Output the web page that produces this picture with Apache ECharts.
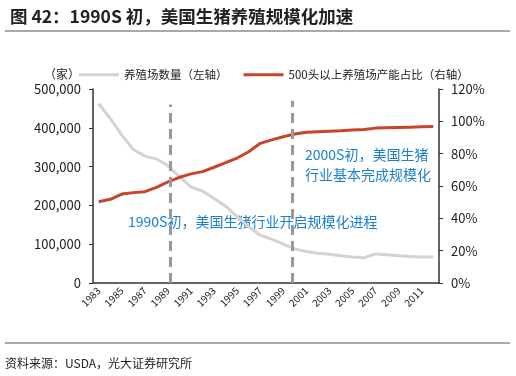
<!DOCTYPE html>
<html>
<head>
<meta charset="utf-8">
<script src="https://cdn.jsdelivr.net/npm/echarts@6/dist/echarts.min.js"></script>
<style>
  html, body { margin: 0; padding: 0; background: #fff; }
  #chart { width: 516px; height: 376px; }
</style>
</head>
<body>
<div id="chart"></div>
<script>
// 数据
var years = [];
for (var y = 1983; y <= 2012; y++) years.push(String(y));

// 养殖场数量（家）
var farmCount = [462000, 424000, 381000, 344000, 327000, 320000, 302000, 274000, 247000, 237000,
                 218000, 198000, 171000, 145000, 123000, 113000, 100000, 88000, 81000, 76500,
                 74000, 70000, 67000, 65000, 75000, 73000, 70000, 68000, 67000, 67000];
// 500头以上养殖场产能占比（%）
var bigShare = [50.3, 51.8, 55.0, 55.9, 56.5, 59.2, 62.5, 65.4, 67.5, 68.9,
                71.6, 74.4, 77.3, 81.2, 86.4, 88.5, 90.5, 92.2, 93.2, 93.6,
                93.9, 94.2, 94.6, 95.0, 95.8, 96.0, 96.2, 96.4, 96.6, 96.8];

// 分界虚线位置（以年份计，1989年附近 / 2000年附近）
var markYear = [1989.2, 1999.8];
var markTop = [460000, 470000];

var font = '"Noto Sans CJK SC", "Noto Sans", sans-serif';
var axisColor = '#333';

var myChart = echarts.init(document.getElementById('chart'));

myChart.setOption({
    animation: false,
    textStyle: { fontFamily: font },
    title: {
        text: '图 42：1990S 初，美国生猪养殖规模化加速',
        left: 5, top: 3,
        textStyle: { fontSize: 17.5, fontWeight: 'bold', color: '#222', fontFamily: font }
    },
    legend: {
        top: 64, left: 74,
        itemWidth: 40, itemHeight: 3, itemGap: 16,
        icon: 'rect',
        textStyle: { fontSize: 11.5, color: '#222', fontFamily: font },
        data: ['养殖场数量（左轴）', '500头以上养殖场产能占比（右轴）']
    },
    graphic: [
        { type: 'line', shape: { x1: 5, y1: 31, x2: 510, y2: 31 }, style: { stroke: '#555', lineWidth: 1 } },
        { type: 'line', shape: { x1: 5, y1: 343, x2: 510, y2: 343 }, style: { stroke: '#555', lineWidth: 1 } },
        { type: 'text', left: 5, top: 357, style: { text: '资料来源：USDA，光大证券研究所', fontSize: 12, fill: '#222', fontFamily: font } },
        { type: 'text', left: 44, top: 68, style: { text: '（家）', fontSize: 12, fill: '#222', fontFamily: font } },
        { type: 'text', left: 128, top: 215, style: { text: '1990S初，美国生猪行业开启规模化进程', fontSize: 14, fill: '#1a7fd0', fontFamily: font } },
        { type: 'text', left: 305, top: 145, style: { text: '2000S初，美国生猪\n行业基本完成规模化', fontSize: 14, lineHeight: 20, fill: '#1a7fd0', fontFamily: font } }
    ],
    grid: { left: 93, right: 77, top: 89, bottom: 93 },
    xAxis: [
        {
            type: 'category',
            data: years,
            boundaryGap: true,
            axisLine: { lineStyle: { color: axisColor, width: 1.5 } },
            axisTick: { inside: true, length: 4, lineStyle: { color: axisColor } },
            axisLabel: { rotate: 45, interval: 1, fontSize: 10, color: '#222', margin: 6 }
        },
        {
            // 隐藏的连续年份轴，用于放置分界虚线
            type: 'value', min: 1982.5, max: 2012.5, show: false
        }
    ],
    yAxis: [
        {
            type: 'value', min: 0, max: 500000, interval: 100000,
            axisLine: { show: true, lineStyle: { color: axisColor, width: 1.5 } },
            axisTick: { show: true, length: 4, lineStyle: { color: axisColor } },
            splitLine: { show: false },
            axisLabel: {
                fontSize: 13, color: '#222', margin: 12,
                formatter: function (v) { return v === 0 ? '0' : v.toLocaleString('en-US'); }
            }
        },
        {
            type: 'value', min: 0, max: 120, interval: 20,
            axisLine: { show: true, lineStyle: { color: axisColor, width: 1.5 } },
            axisTick: { show: true, length: 4, lineStyle: { color: axisColor } },
            splitLine: { show: false },
            axisLabel: { fontSize: 13, color: '#222', margin: 12, formatter: '{value}%' }
        }
    ],
    series: [
        {
            name: '养殖场数量（左轴）',
            type: 'line',
            yAxisIndex: 0,
            data: farmCount,
            symbol: 'none',
            lineStyle: { color: '#d3d3d3', width: 3 },
            itemStyle: { color: '#d3d3d3' }
        },
        {
            name: '500头以上养殖场产能占比（右轴）',
            type: 'line',
            yAxisIndex: 1,
            data: bigShare,
            symbol: 'none',
            lineStyle: { color: '#c8442a', width: 3 },
            itemStyle: { color: '#c8442a' }
        },
        {
            name: 'divider',
            type: 'line',
            xAxisIndex: 1,
            yAxisIndex: 0,
            data: [],
            markLine: {
                symbol: 'none',
                silent: true,
                label: { show: false },
                lineStyle: { color: '#999', width: 3, type: [10, 6] },
                data: markYear.map(function (p, i) {
                    return [{ coord: [p, 0] }, { coord: [p, markTop[i]] }];
                })
            }
        }
    ]
});
</script>
</body>
</html>
